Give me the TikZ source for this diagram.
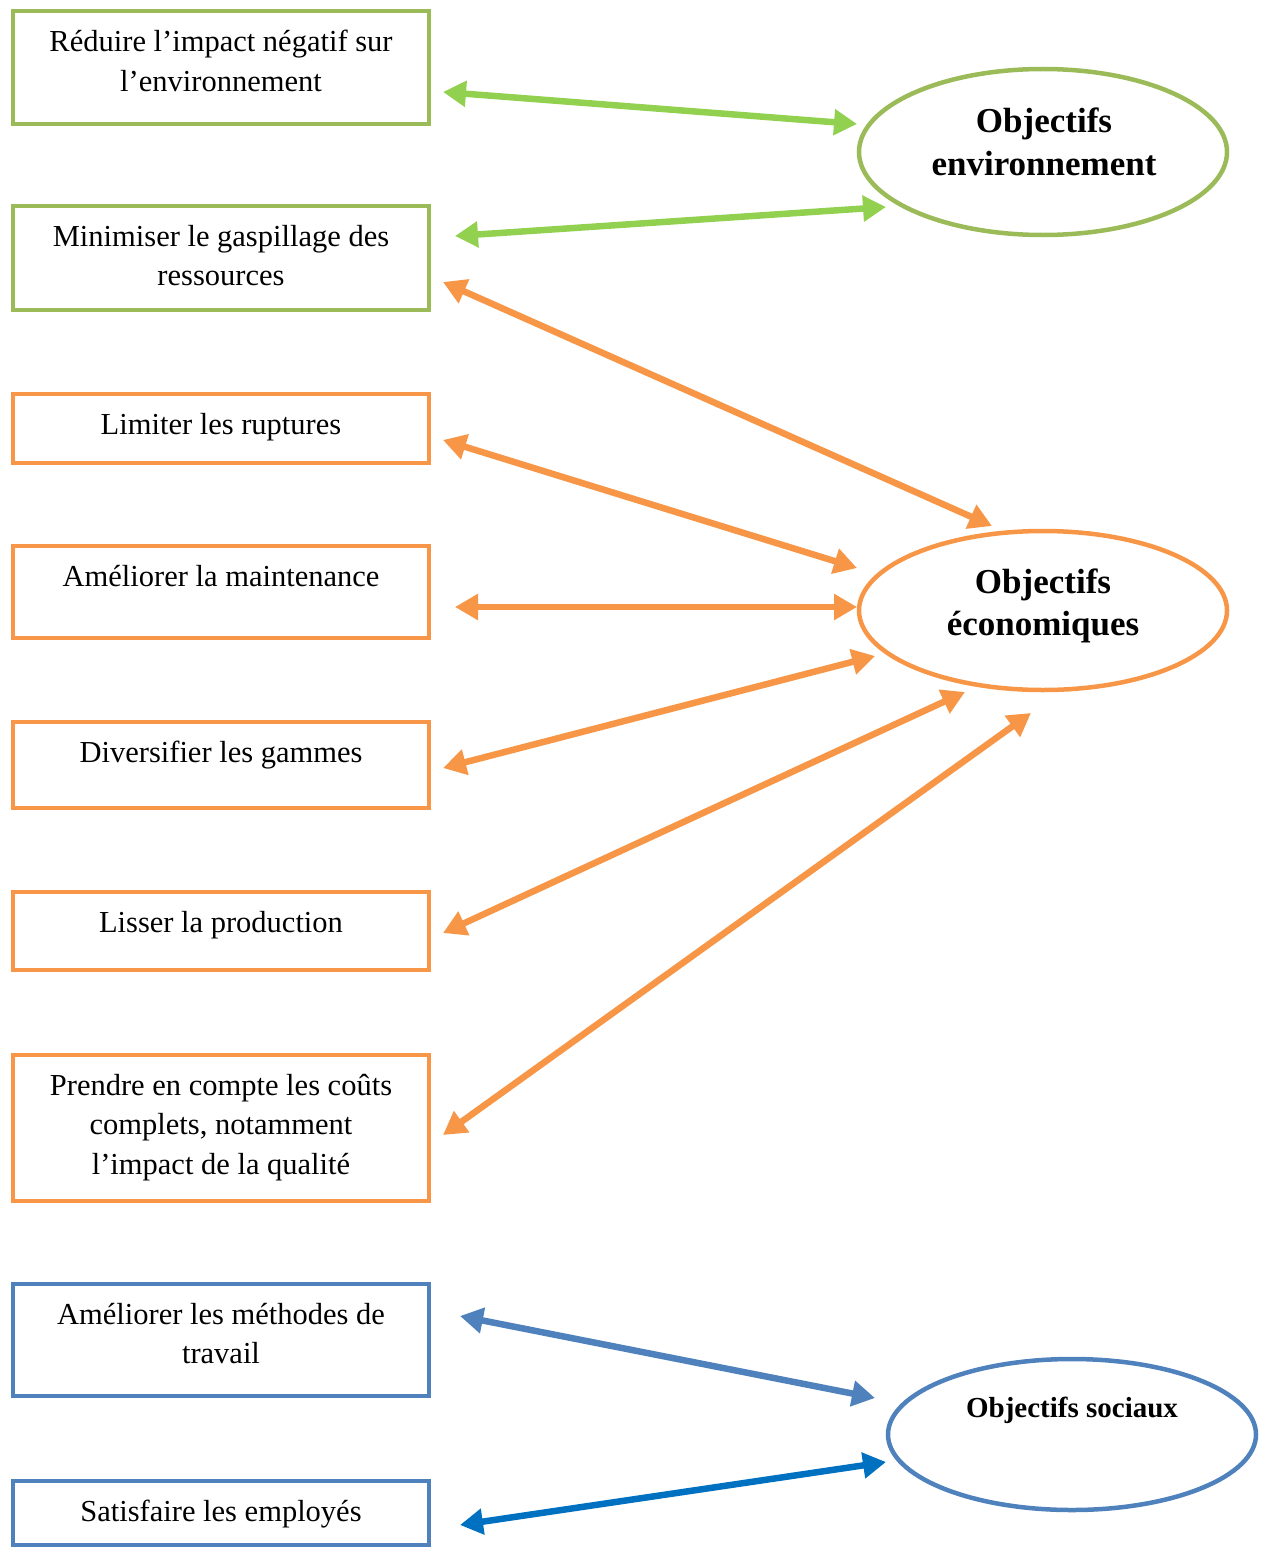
\documentclass[tikz,border=0pt]{standalone}
\usepackage{fontspec}
\setmainfont{Liberation Serif}
\usetikzlibrary{arrows.meta,shapes.geometric}
\definecolor{envline}{HTML}{9BBB59}
\definecolor{envarrow}{HTML}{92D050}
\definecolor{ecoline}{HTML}{F79646}
\definecolor{socline}{HTML}{4F81BD}
\definecolor{socarrow}{HTML}{0070C0}
\begin{document}
\begin{tikzpicture}[x=1bp,y=-1bp,
  box/.style={draw,line width=4.5bp,minimum width=416bp,inner sep=0pt},
  boxtext/.style={text width=400bp,align=flush center,anchor=base,inner sep=0pt,
    font=\fontsize{30.5bp}{39.5bp}\selectfont},
  goal/.style={draw,ellipse,line width=4.5bp,minimum width=368bp,inner sep=0pt},
  goaltext/.style={text width=360bp,align=flush center,anchor=base,inner sep=0pt,
    font=\bfseries\fontsize{35bp}{42bp}\selectfont},
  link/.style={line width=6.5bp,
    {Triangle[length=23bp,width=25bp]}-{Triangle[length=23bp,width=25bp]}}
]
\useasboundingbox (0,0) rectangle (1263,1549);

% objective boxes
\node[box,draw=envline,minimum height=113bp] (b1) at (221,67.5) {};
\node[box,draw=envline,minimum height=104bp] (b2) at (221,258) {};
\node[box,draw=ecoline,minimum height=69bp]  (b3) at (221,428.5) {};
\node[box,draw=ecoline,minimum height=92bp]  (b4) at (221,592) {};
\node[box,draw=ecoline,minimum height=86bp]  (b5) at (221,765) {};
\node[box,draw=ecoline,minimum height=78bp]  (b6) at (221,931) {};
\node[box,draw=ecoline,minimum height=146bp] (b7) at (221,1128) {};
\node[box,draw=socline,minimum height=112bp] (b8) at (221,1340) {};
\node[box,draw=socline,minimum height=64bp]  (b9) at (221,1513) {};

\node[boxtext] (t1) at (221,52)   {Réduire l’impact négatif sur\\ l’environnement};
\node[boxtext] (t2) at (221,246)  {Minimiser le gaspillage des\\ ressources};
\node[boxtext] (t3) at (221,434)  {Limiter les ruptures};
\node[boxtext] (t4) at (221,586)  {Améliorer la maintenance};
\node[boxtext] (t5) at (221,762)  {Diversifier les gammes};
\node[boxtext] (t6) at (221,932)  {Lisser la production};
\node[boxtext] (t7) at (221,1095) {Prendre en compte les coûts\\ complets, notamment\\ l’impact de la qualité};
\node[boxtext] (t8) at (221,1324) {Améliorer les méthodes de\\ travail};
\node[boxtext] (t9) at (221,1521) {Satisfaire les employés};

% goal ellipses
\node[goal,draw=envline,minimum height=166bp] (env) at (1043,152) {};
\node[goal,draw=ecoline,minimum height=159bp] (eco) at (1043,610.5) {};
\node[goal,draw=socline,minimum height=151bp] (soc) at (1072,1434.5) {};

\node[goaltext] (tenv) at (1044,133) {Objectifs\\ environnement};
\node[goaltext] (teco) at (1043,593) {Objectifs\\ économiques};
\node[goaltext,font=\bfseries\fontsize{29bp}{35bp}\selectfont] (tsoc) at (1072,1417) {Objectifs sociaux};

% connector ends
\coordinate (g1a) at (443,92);    \coordinate (g1b) at (857,124);
\coordinate (g2a) at (455,236);   \coordinate (g2b) at (886,207);
\coordinate (o1a) at (443,282);   \coordinate (o1b) at (992,526);
\coordinate (o2a) at (443,440);   \coordinate (o2b) at (857,568);
\coordinate (o3a) at (455,607);   \coordinate (o3b) at (857,607);
\coordinate (o4a) at (443,768);   \coordinate (o4b) at (875,656);
\coordinate (o5a) at (443,933);   \coordinate (o5b) at (965,692);
\coordinate (o6a) at (443,1135);  \coordinate (o6b) at (1031,713);
\coordinate (s1a) at (460,1316);  \coordinate (s1b) at (875,1398);
\coordinate (s2a) at (460,1525);  \coordinate (s2b) at (886,1462);

% connectors
\draw[link,draw=envarrow,fill=envarrow] (g1a) -- (g1b);
\draw[link,draw=envarrow,fill=envarrow] (g2a) -- (g2b);
\draw[link,draw=ecoline,fill=ecoline] (o1a) -- (o1b);
\draw[link,draw=ecoline,fill=ecoline] (o2a) -- (o2b);
\draw[link,draw=ecoline,fill=ecoline] (o3a) -- (o3b);
\draw[link,draw=ecoline,fill=ecoline] (o4a) -- (o4b);
\draw[link,draw=ecoline,fill=ecoline] (o5a) -- (o5b);
\draw[link,draw=ecoline,fill=ecoline] (o6a) -- (o6b);
\draw[link,draw=socline,fill=socline] (s1a) -- (s1b);
\draw[link,draw=socarrow,fill=socarrow] (s2a) -- (s2b);
\end{tikzpicture}
\end{document}
